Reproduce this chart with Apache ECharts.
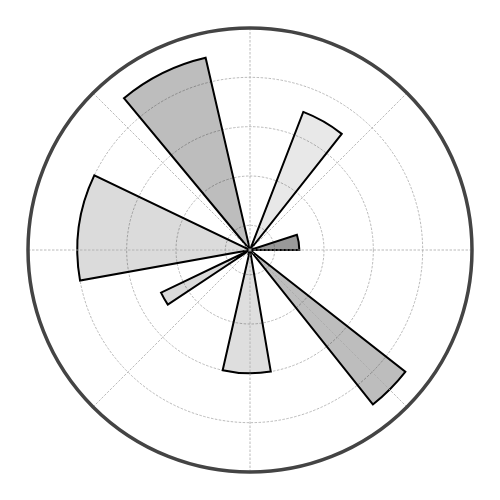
<!DOCTYPE html>
<html lang="en">
  <head>
    <meta charset="UTF-8" />
    <title>Polar bars</title>
    <script src="https://cdn.jsdelivr.net/npm/echarts@6/dist/echarts.min.js"></script>
    <style>
      body { margin: 0; background: #fff; }
    </style>
  </head>
  <body>
    <div id="main" style="width: 500px; height: 500px"></div>
    <script type="text/javascript">
      // bar data, angles in degrees (counter-clockwise from east)
      const startAngles = [0, 51.7, 103, 154.4, 205.6, 257.2, 308.5];
      const endAngles = [18, 68.9, 129.7, 190.2, 213.6, 279.7, 321.9];
      const radii = [2, 6, 8, 7, 4, 5, 8];
      // fill opacity of each bar (black)
      const shades = [0.4, 0.09, 0.26, 0.14, 0.14, 0.13, 0.26];
      // radial grid rings
      const ringTicks = [1, 3, 5, 7];

      const gridDash = { color: "#a8a8a8", width: 0.8, type: [2.5, 1.5] };
      const R = 222;

      const barData = startAngles.map((s, i) => [s, endAngles[i], radii[i], shades[i]]);
      const ringData = ringTicks.map((v) => [v]);

      function renderBar(params, api) {
        const cs = params.coordSys;
        const r = api.value(2);
        const p1 = api.coord([r, api.value(0)]);
        const p2 = api.coord([r, api.value(1)]);
        const rad = Math.hypot(p1[0] - cs.cx, p1[1] - cs.cy);
        let a1 = Math.atan2(p2[1] - cs.cy, p2[0] - cs.cx);
        let a2 = Math.atan2(p1[1] - cs.cy, p1[0] - cs.cx);
        if (a2 < a1) a2 += Math.PI * 2;
        return {
          type: "sector",
          shape: { cx: cs.cx, cy: cs.cy, r0: 0, r: rad, startAngle: a1, endAngle: a2, clockwise: true },
          style: {
            fill: "rgba(0,0,0," + api.value(3) + ")",
            stroke: "#000",
            lineWidth: 2,
            lineJoin: "miter",
          },
        };
      }

      function renderRing(params, api) {
        const cs = params.coordSys;
        const p = api.coord([api.value(0), 0]);
        const rad = Math.hypot(p[0] - cs.cx, p[1] - cs.cy);
        return {
          type: "circle",
          shape: { cx: cs.cx, cy: cs.cy, r: rad },
          style: { fill: null, stroke: gridDash.color, lineWidth: gridDash.width, lineDash: gridDash.type },
          silent: true,
        };
      }

      let options = {
        animation: false,
        polar: { center: ["50%", "50%"], radius: R },
        angleAxis: {
          type: "value",
          min: 0,
          max: 360,
          interval: 45,
          startAngle: 0,
          clockwise: false,
          axisLine: { show: true, lineStyle: { color: "#444", width: 3.5 } },
          axisTick: { show: false },
          axisLabel: { show: false },
          splitLine: { show: true, lineStyle: gridDash },
          z: 10,
        },
        radiusAxis: {
          type: "value",
          min: 0,
          max: 9,
          axisLine: { show: false },
          axisTick: { show: false },
          axisLabel: { show: false },
          splitLine: { show: false },
        },
        series: [
          {
            type: "custom",
            coordinateSystem: "polar",
            renderItem: renderRing,
            data: ringData,
            z: 1,
            silent: true,
          },
          {
            type: "custom",
            coordinateSystem: "polar",
            renderItem: renderBar,
            data: barData,
            z: 2,
          },
        ],
      };

      let myChart = echarts.init(document.getElementById("main"), null, { renderer: "canvas" });
      myChart.setOption(options);
    </script>
  </body>
</html>
